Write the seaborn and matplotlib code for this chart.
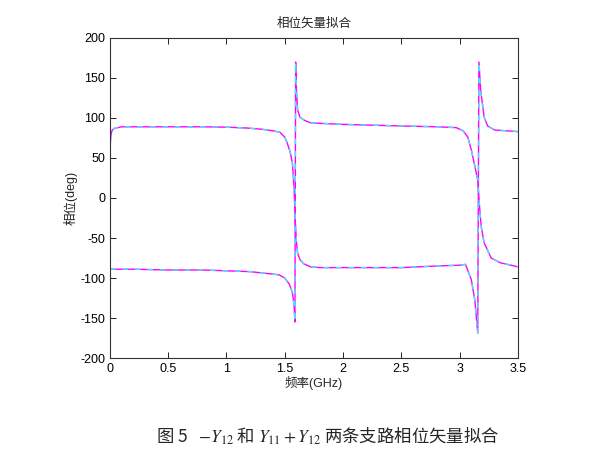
import numpy as np
import pandas as pd
import seaborn as sns
import matplotlib.pyplot as plt

# trace that starts near +90 deg
freq_a = [0.0, 0.005, 0.01, 0.02, 0.04, 0.07, 0.1, 0.2, 0.5, 0.8, 1.0, 1.17, 1.3, 1.4, 1.46,
          1.5, 1.52, 1.545, 1.565, 1.58, 1.59, 1.6, 1.61, 1.63, 1.66, 1.72, 1.8, 2.0, 2.5, 2.8,
          3.0, 3.05, 3.1, 3.13, 3.155, 3.165, 3.18, 3.21, 3.24, 3.3, 3.5]
phase_a = [55, 72, 80, 85, 87, 88, 89, 89, 89, 89, 88.5, 87.5, 86, 84, 82,
           76, 69, 58, 44, 12, -30, -55, -69, -77, -82, -86, -87, -87, -87, -85,
           -84, -83, -102, -128, -169, 170, 135, 101, 90, 85, 83]

# trace that starts near -90 deg
freq_b = [0.0, 0.2, 0.5, 0.8, 1.0, 1.2, 1.45, 1.5, 1.54, 1.565, 1.58, 1.587, 1.593, 1.6,
          1.61, 1.63, 1.67, 1.72, 1.85, 2.0, 2.5, 2.8, 2.97, 3.03, 3.07, 3.1, 3.13, 3.155,
          3.17, 3.185, 3.21, 3.27, 3.35, 3.5]
phase_b = [-89, -89, -90, -90, -91, -92, -96, -100, -108, -118, -135, -155, 170, 135,
           110, 101, 97, 94, 93, 92, 90, 89, 88, 84, 76, 60, 40, 22,
           -10, -36, -56, -75, -81, -86]

sns.set_style("white")
plt.rcParams['font.family'] = ['Liberation Sans', 'Noto Sans CJK SC', 'DejaVu Sans']
plt.rcParams['mathtext.fontset'] = 'stix'
plt.rcParams['axes.unicode_minus'] = False

fig = plt.figure(figsize=(6.14, 4.5), dpi=100)
ax = fig.add_axes([0.179, 0.2044, 0.6646, 0.7112])

for f, p in [(freq_a, phase_a), (freq_b, phase_b)]:
    sns.lineplot(x=f, y=p, sort=False, ax=ax, color='#ff00ff', lw=1.0)
    sns.lineplot(x=f, y=p, sort=False, ax=ax, color='#40e8f0', lw=1.0, dashes=False,
                 linestyle=(0, (4, 5)))

ax.set_xlim(0, 3.5)
ax.set_ylim(-200, 200)
ax.set_xticks(np.arange(0, 3.51, 0.5))
ax.set_xticklabels(['0', '0.5', '1', '1.5', '2', '2.5', '3', '3.5'])
ax.set_yticks(np.arange(-200, 201, 50))
ax.tick_params(direction='in', length=4, width=0.6, labelsize=9, top=True, right=True,
               bottom=True, left=True, colors='black')
for s in ax.spines.values():
    s.set_color('#333333')
    s.set_linewidth(0.8)

ax.set_title('相位矢量拟合', fontsize=9, pad=8)
ax.set_xlabel('频率(GHz)', fontsize=9, labelpad=1)
ax.set_ylabel('相位(deg)', fontsize=9, labelpad=2)

fig.text(0.534, 0.03, r'图 5   $-Y_{12}$ 和 $Y_{11}+Y_{12}$ 两条支路相位矢量拟合',
         ha='center', va='center', fontsize=12.5, family='Noto Sans CJK SC')

fig.savefig('out.png', dpi=100)
